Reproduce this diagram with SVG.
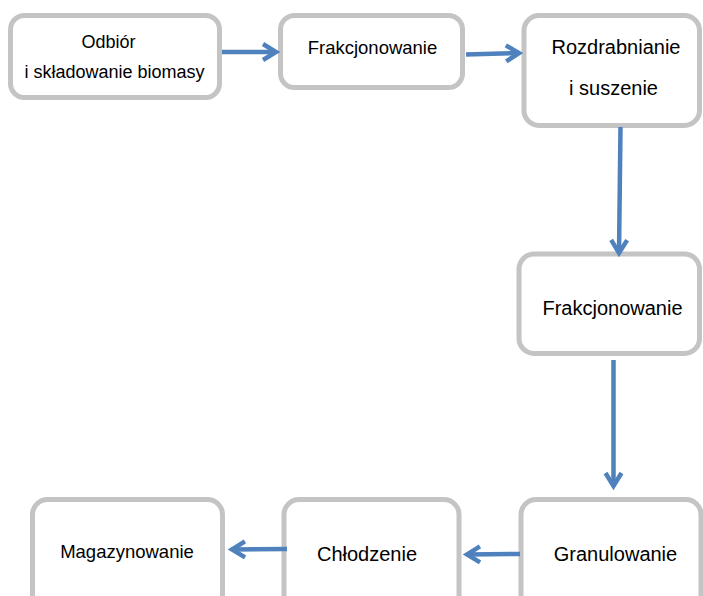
<svg xmlns="http://www.w3.org/2000/svg" width="703" height="596" viewBox="0 0 703 596">
  <defs>
    <!-- open chevron arrowhead used by every connector -->
    <marker id="open-arrow" markerUnits="userSpaceOnUse" viewBox="-20 -14 28 28" markerWidth="28" markerHeight="28" refX="0" refY="0" orient="auto" overflow="visible">
      <path d="M -13,-8 L 0,0 L -13,8" fill="none" stroke="#4F81BD" stroke-width="4.5" stroke-linejoin="miter"/>
    </marker>
  </defs>
  <style>
    .box { fill: #FFFFFF; stroke: #C4C4C4; stroke-width: 5; }
    .label { font-family: "Liberation Sans", Arial, sans-serif; fill: #000000; text-anchor: middle; }
    .conn { fill: none; stroke: #4F81BD; stroke-width: 4.5; marker-end: url(#open-arrow); }
  </style>
  <rect width="703" height="596" fill="#FFFFFF"/>

  <g id="node-odbior">
    <rect class="box" x="10.5" y="15.5" width="209" height="82" rx="14"/>
    <text class="label" x="108.5" y="48" font-size="18">Odbiór</text>
    <text class="label" x="114.5" y="77.5" font-size="18">i składowanie biomasy</text>
  </g>

  <g id="node-frakcjonowanie-1">
    <rect class="box" x="280.5" y="15.5" width="182" height="72" rx="14"/>
    <text class="label" x="372.5" y="54" font-size="18.5">Frakcjonowanie</text>
  </g>

  <g id="node-rozdrabnianie">
    <rect class="box" x="524" y="15.5" width="175.5" height="110" rx="15"/>
    <text class="label" x="616" y="53.5" font-size="20">Rozdrabnianie</text>
    <text class="label" x="613.5" y="95" font-size="20">i suszenie</text>
  </g>

  <g id="node-frakcjonowanie-2">
    <rect class="box" x="519" y="254" width="180.5" height="99.5" rx="15"/>
    <text class="label" x="612.5" y="315" font-size="20">Frakcjonowanie</text>
  </g>

  <g id="node-granulowanie">
    <rect class="box" x="521" y="499.5" width="180" height="120" rx="15"/>
    <text class="label" x="615.5" y="561" font-size="20">Granulowanie</text>
  </g>

  <g id="node-chlodzenie">
    <rect class="box" x="284" y="499.5" width="175" height="120" rx="15"/>
    <text class="label" x="367" y="561" font-size="20">Chłodzenie</text>
  </g>

  <g id="node-magazynowanie">
    <rect class="box" x="32.5" y="499.5" width="190" height="120" rx="15"/>
    <text class="label" x="127" y="557.5" font-size="18.5">Magazynowanie</text>
  </g>

  <g id="connectors">
    <path class="conn" d="M 222,52 L 276,52"/>
    <path class="conn" d="M 466,54.5 L 519,53"/>
    <path class="conn" d="M 620.5,127 L 619,253"/>
    <path class="conn" d="M 613.5,360 L 613.5,486"/>
    <path class="conn" d="M 520,554 L 467,554.5"/>
    <path class="conn" d="M 287,549 L 232,549.5"/>
  </g>
</svg>
